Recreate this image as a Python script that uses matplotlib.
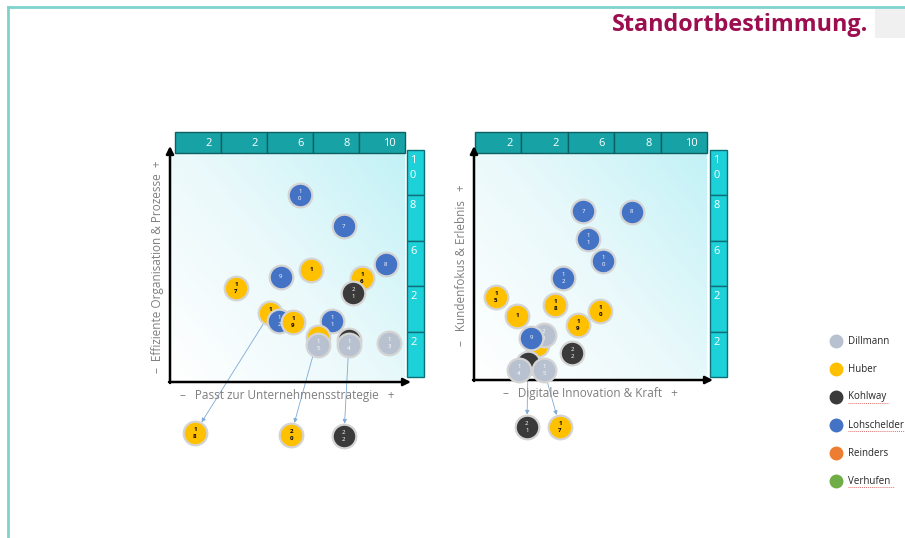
import numpy as np
import matplotlib.pyplot as plt
from matplotlib.colors import LinearSegmentedColormap
from matplotlib.patches import Rectangle
from matplotlib.lines import Line2D

plt.rcParams['font.family'] = ['Open Sans', 'DejaVu Sans']

# companies and their colours
firms = ["Dillmann", "Huber", "Kohlway", "Lohschelder", "Reinders", "Verhufen"]
firm_colors = ["#B7C1CF", "#FFC000", "#3A3A3A", "#4472C4", "#ED7D31", "#70AD47"]
underlined = ["Kohlway", "Lohschelder", "Verhufen"]

# left matrix: strategy fit (x) vs. efficiency (y), drawn in this order
# (empty label = bubble sits fully behind another one)
left_labels = ["10", "7", "8", "1", "9", "16", "17", "21", "18", "12", "19", "11",
               "", "15", "", "14", "13"]
left_x = [5.53, 7.40, 9.19, 6.00, 4.72, 8.17, 2.81, 7.79, 4.26, 4.64, 5.23, 6.89,
          6.30, 6.30, 7.62, 7.62, 9.32]
left_y = [8.15, 6.78, 5.11, 4.85, 4.54, 4.49, 4.05, 3.83, 2.95, 2.60, 2.56, 2.60,
          1.89, 1.54, 1.76, 1.54, 1.63]
left_firm = ["Lohschelder", "Lohschelder", "Lohschelder", "Huber", "Lohschelder",
             "Huber", "Huber", "Kohlway", "Huber", "Lohschelder", "Huber",
             "Lohschelder", "Huber", "Dillmann", "Kohlway", "Dillmann", "Dillmann"]
# bubbles moved out below the matrix (index = origin in the lists above)
left_out_labels = ["18", "20", "22"]
left_out_x = [1.06, 5.15, 7.40]
left_out_y = [-2.33, -2.42, -2.47]
left_out_firm = ["Huber", "Huber", "Kohlway"]
left_out_from = [8, 12, 14]

# right matrix: digital innovation (x) vs. customer focus (y)
right_labels = ["7", "8", "11", "10", "12", "15", "18", "10", "1", "19", "17",
                "23", "9", "22", "", "14", "15"]
right_x = [4.68, 6.78, 4.89, 5.54, 3.82, 0.94, 3.48, 5.41, 1.85, 4.46, 2.70,
           3.00, 2.45, 4.21, 2.32, 1.93, 3.00]
right_y = [7.42, 7.38, 6.18, 5.20, 4.44, 3.60, 3.24, 2.98, 2.76, 2.36, 1.47,
           1.91, 1.78, 1.11, 0.67, 0.36, 0.36]
right_firm = ["Lohschelder", "Lohschelder", "Lohschelder", "Lohschelder",
              "Lohschelder", "Huber", "Huber", "Huber", "Huber", "Huber", "Huber",
              "Dillmann", "Lohschelder", "Kohlway", "Kohlway", "Dillmann", "Dillmann"]
right_out_labels = ["21", "17"]
right_out_x = [2.27, 3.69]
right_out_y = [-2.18, -2.18]
right_out_firm = ["Kohlway", "Huber"]
right_out_from = [14, 10]

top_ticks = ["2", "2", "6", "8", "10"]
side_ticks = ["1\n0", "8", "6", "2", "2"]

W, H = 905, 538
fig = plt.figure(figsize=(W / 100, H / 100), dpi=100)

def fig_box(x0, y0, x1, y1):
    return [x0 / W, 1 - y1 / H, (x1 - x0) / W, (y1 - y0) / H]

grad_cmap = LinearSegmentedColormap.from_list("bg", ["#FFFFFF", "#EAF9FB", "#C2F2F6"])
color_of = dict(zip(firms, firm_colors))


def bubble(ax, x, y, label, firm, z):
    ax.scatter(x, y, s=290, color=color_of[firm], edgecolor="#D4D4D4",
               linewidth=1.6, zorder=z, clip_on=False)
    if label:
        tc = "black" if firm == "Huber" else "white"
        ax.text(x, y, "\n".join(label), ha="center", va="center", fontsize=4.4,
                color=tc, linespacing=1.5, zorder=z + 0.5, clip_on=False,
                fontweight="bold" if firm == "Huber" else "normal")


def matrix(box, xlabel, ylabel, labels, xs, ys, fs, out_labels, out_x, out_y,
           out_fs, out_from, head_off, pad):
    ax = fig.add_axes(fig_box(*box))
    ax.set_xlim(0, 10)
    ax.set_ylim(0, 10)
    ax.axis("off")
    wpx, hpx = box[2] - box[0], box[3] - box[1]

    gx, gy = np.meshgrid(np.linspace(0, 1, 200), np.linspace(0, 1, 200))
    ax.imshow(gx * 0.55 + gy * 0.45, extent=[0, 10, 0, 10], origin="lower",
              cmap=grad_cmap, aspect="auto", zorder=0)

    # axis arrows
    ax.annotate("", xy=(0, 1 + 7 / hpx), xytext=(0, -3 / hpx),
                xycoords="axes fraction", annotation_clip=False,
                arrowprops=dict(arrowstyle="-|>", lw=1.8, color="black",
                                mutation_scale=11, shrinkA=0, shrinkB=0))
    ax.annotate("", xy=(1 + 6 / wpx, -2 / hpx), xytext=(-1 / wpx, -2 / hpx),
                xycoords="axes fraction", annotation_clip=False,
                arrowprops=dict(arrowstyle="-|>", lw=1.8, color="black",
                                mutation_scale=11, shrinkA=0, shrinkB=0))

    # header bar on top
    x0 = head_off / wpx
    cw = (1 - x0) / 5
    for i, t in enumerate(top_ticks):
        ax.add_patch(Rectangle((x0 + i * cw, 1), cw, 21 / hpx, transform=ax.transAxes,
                               facecolor="#17A3A6", edgecolor="#0D5F62", lw=1.0,
                               clip_on=False, zorder=2))
        ax.text(x0 + (i + 1) * cw - 9 / wpx, 1 + 10 / hpx, t, transform=ax.transAxes,
                ha="right", va="center", color="white", fontsize=8, zorder=3)

    # column on the right
    cx0 = 1 + pad / wpx
    ch = (227 / hpx) / 5
    ytop = 1 + 3 / hpx
    for i, t in enumerate(side_ticks):
        yb = ytop - (i + 1) * ch
        ax.add_patch(Rectangle((cx0, yb), 17 / wpx, ch, transform=ax.transAxes,
                               facecolor="#1DD1D9", edgecolor="#0E6F76", lw=1.0,
                               clip_on=False, zorder=2))
        ax.text(cx0 + 3 / wpx, yb + ch - 5 / hpx, t, transform=ax.transAxes,
                ha="left", va="top", color="white", fontsize=8, linespacing=1.5,
                zorder=3)

    ax.text(0.5, -16 / hpx, xlabel, transform=ax.transAxes, ha="center",
            va="center", color="#7F7F7F", fontsize=8.5)
    ax.text(-13 / wpx, 0.5, ylabel, transform=ax.transAxes, ha="center",
            va="center", rotation=90, color="#7F7F7F", fontsize=8.5)

    # movement arrows to the bubbles placed below
    for k in range(len(out_labels)):
        j = out_from[k]
        ax.annotate("", xy=(out_x[k], out_y[k]), xytext=(xs[j], ys[j]),
                    annotation_clip=False, zorder=1.5,
                    arrowprops=dict(arrowstyle="-|>", lw=0.6, color="#7EA9D6",
                                    mutation_scale=6, shrinkA=9, shrinkB=9))

    z = 5
    for lab, x, y, f in zip(labels, xs, ys, fs):
        bubble(ax, x, y, lab, f, z)
        z += 1
    for lab, x, y, f in zip(out_labels, out_x, out_y, out_fs):
        bubble(ax, x, y, lab, f, z)
        z += 1
    return ax


matrix((170, 153, 405, 380), "–   Passt zur Unternehmensstrategie   +",
       "–  Effiziente Organisation & Prozesse  +",
       left_labels, left_x, left_y, left_firm,
       left_out_labels, left_out_x, left_out_y, left_out_firm, left_out_from, 5, 2)
matrix((474, 153, 707, 378), "–   Digitale Innovation & Kraft   +",
       "–   Kundenfokus & Erlebnis   +",
       right_labels, right_x, right_y, right_firm,
       right_out_labels, right_out_x, right_out_y, right_out_firm, right_out_from, 1, 3)

# legend
for i, (name, col) in enumerate(zip(firms, firm_colors)):
    yy = 1 - (341 + 28 * i) / H
    fig.add_artist(Line2D([836 / W], [yy], marker="o", markersize=9,
                          color=col, linestyle="none"))
    fig.text(848 / W, yy, name, ha="left", va="center", fontsize=7,
             color="#262626")
    if name in underlined:
        ul = 1 - (341 + 28 * i + 6) / H
        fig.add_artist(Line2D([848 / W, (848 + 5.8 * len(name)) / W], [ul, ul],
                              color="#E07070", lw=0.7, linestyle=(0, (1, 1))))

# slide frame, title and corner box
fig.add_artist(Line2D([8 / W, 1], [1 - 7 / H, 1 - 7 / H], color="#7FD3CD", lw=2))
fig.add_artist(Line2D([8 / W, 8 / W], [0, 1 - 7 / H], color="#7FD3CD", lw=2))
fig.add_artist(Rectangle((875 / W, 1 - 38 / H), 30 / W, 29 / H, transform=fig.transFigure,
                         facecolor="#F0F0F0", edgecolor="none"))
fig.text(868 / W, 1 - 25 / H, "Standortbestimmung.", ha="right", va="center",
         fontsize=16.8, fontweight="bold", color="#9C0E4F")

fig.savefig("out.png", dpi=100)
